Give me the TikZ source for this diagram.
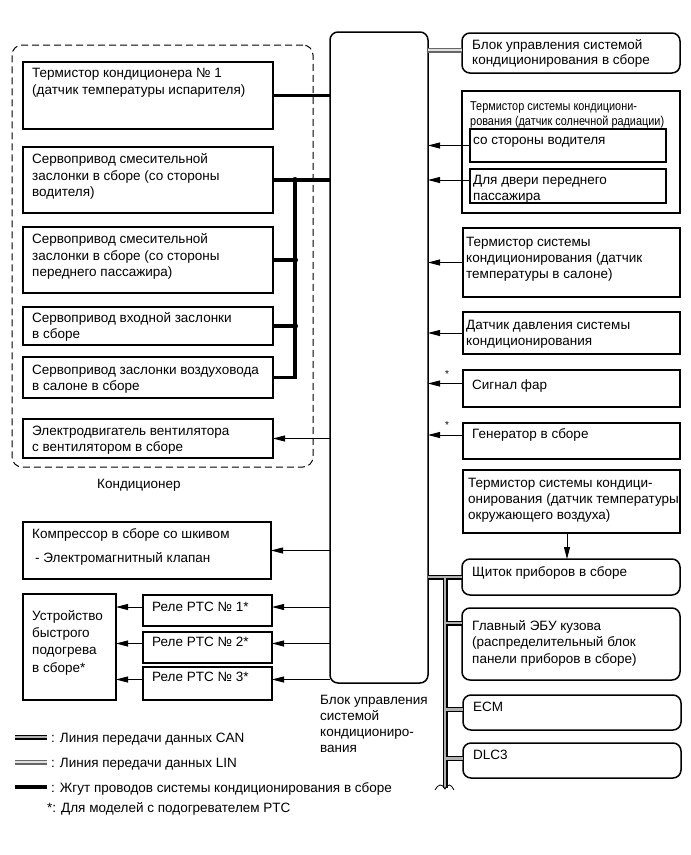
\documentclass[tikz,border=0pt]{standalone}
\usepackage{fontspec}
\setmainfont{Liberation Sans}
\newfontfamily\narrowfont[FakeStretch=0.85]{Liberation Sans}
\usetikzlibrary{arrows.meta}
\newcommand\mybox[6]{\node[#1, minimum width={#5-#3}, minimum height={#6-#4}] (#2) at (#3,#4) {};}
\begin{document}
\begin{tikzpicture}[x=1pt,y=-1pt,
  box/.style={draw, line width=1.6pt, anchor=north west, inner sep=0pt, outer sep=0pt},
  sbox/.style={box, line width=1.8pt},
  rbox/.style={box, line width=1.5pt, rounded corners=8pt},
  dbox/.style={box, line width=1pt, dash pattern=on 7pt off 4pt, rounded corners=10pt},
  txt/.style={anchor=north west, inner sep=0pt, yshift=-3pt, align=left, font=\fontsize{13.5}{16.8}\selectfont, execute at begin node=\strut},
  ntxt/.style={txt, font=\narrowfont\fontsize{12.8}{15}\selectfont},
  arr/.style={line width=0.9pt, -{Triangle[length=12pt,width=6pt]}},
  harness/.style={line width=3.5pt},
  canout/.style={line width=5pt, black},
  canin/.style={line width=2.2pt, black!30},
  linout/.style={line width=5pt, black!60},
  linin/.style={line width=1.8pt, black!12},
]
\useasboundingbox (0,0) rectangle (691,855);

% group frame and ECU
\mybox{dbox}{kond}{12}{45}{313}{467}
\node[txt] (kondl) at (97,474) {Кондиционер};
\mybox{rbox}{ecu}{330}{32}{428}{683}
\node[txt, font=\fontsize{13.5}{16}\selectfont] (ecul) at (320,692) {Блок управления\\системой\\кондициониро-\\вания};

% left boxes
\mybox{box}{b1}{23}{62}{273}{129}
\mybox{box}{b2}{23}{147}{273}{213}
\mybox{box}{b3}{23}{227}{273}{293}
\mybox{box}{b4}{23}{307}{273}{345}
\mybox{box}{b5}{23}{357}{273}{398}
\mybox{box}{b6}{23}{419}{273}{458}
\mybox{box}{comp}{23}{522}{271}{579}
\mybox{box}{ud}{23}{594}{116}{700}
\mybox{box}{r1}{143}{595}{272}{626}
\mybox{box}{r2}{143}{632}{272}{663}
\mybox{box}{r3}{143}{667}{272}{700}

\node[txt] (t1) at (32,65) {Термистор кондиционера № 1\\(датчик температуры испарителя)};
\node[txt] (t2) at (32,150) {Сервопривод смесительной\\заслонки в сборе (со стороны\\водителя)};
\node[txt] (t3) at (32,230) {Сервопривод смесительной\\заслонки в сборе (со стороны\\переднего пассажира)};
\node[txt, font=\fontsize{13.5}{16}\selectfont] (t4) at (32,309) {Сервопривод входной заслонки\\в сборе};
\node[txt, font=\fontsize{13.5}{16}\selectfont] (t5) at (32,362) {Сервопривод заслонки воздуховода\\в салоне в сборе};
\node[txt, font=\fontsize{13.5}{16}\selectfont] (t6) at (32,423) {Электродвигатель вентилятора\\с вентилятором в сборе};
\node[txt] (tc) at (32,525) {Компрессор в сборе со шкивом\\[8pt]\hspace*{3pt}- Электромагнитный клапан};
\node[txt, font=\fontsize{13.5}{17.3}\selectfont] (tu) at (32,607) {Устройство\\быстрого\\подогрева\\в сборе*};
\node[txt] (tr1) at (152,597) {Реле PTC № 1*};
\node[txt] (tr2) at (152,632) {Реле PTC № 2*};
\node[txt] (tr3) at (152,667) {Реле PTC № 3*};

% right boxes
\mybox{rbox}{top}{462}{33}{680}{73}
\mybox{sbox}{sun}{462}{91}{680}{213}
\mybox{sbox}{s1}{470}{129}{666}{162}
\mybox{sbox}{s2}{470}{169}{666}{203}
\mybox{sbox}{sal}{463}{228}{680}{297}
\mybox{sbox}{dav}{463}{312}{680}{354}
\mybox{sbox}{far}{463}{370}{680}{407}
\mybox{sbox}{gen}{463}{423}{680}{459}
\mybox{sbox}{amb}{463}{470}{680}{533}
\mybox{rbox}{shch}{462}{559}{680}{595}
\mybox{rbox}{gl}{462}{608}{680}{680}
\mybox{rbox}{ecm}{463}{695}{681}{730}
\mybox{rbox}{dlc}{463}{743}{681}{778}

\node[txt, font=\fontsize{13.5}{15.5}\selectfont] (ttop) at (472,36) {Блок управления системой\\кондиционирования в сборе};
\node[ntxt] (tsun) at (470,98) {Термистор системы кондициони-\\рования (датчик солнечной радиации)};
\node[txt] (ts1) at (473,130) {со стороны водителя};
\node[txt, font=\fontsize{13.5}{16}\selectfont] (ts2) at (473,172) {Для двери переднего\\пассажира};
\node[txt, font=\fontsize{13.5}{16}\selectfont] (tsal) at (466,234) {Термистор системы\\кондиционирования (датчик\\температуры в салоне)};
\node[txt, font=\fontsize{13.5}{16}\selectfont] (tdav) at (466,317) {Датчик давления системы\\кондиционирования};
\node[txt] (tfar) at (472,375) {Сигнал фар};
\node[txt] (tgen) at (472,424) {Генератор в сборе};
\node[txt, font=\fontsize{13.5}{16}\selectfont] (tamb) at (468,475) {Термистор системы кондици-\\онирования (датчик температуры\\окружающего воздуха)};
\node[txt] (tshch) at (472,562) {Щиток приборов в сборе};
\node[txt, font=\fontsize{13.5}{16.5}\selectfont] (tgl) at (472,617) {Главный ЭБУ кузова\\(распределительный блок\\панели приборов в сборе)};
\node[txt] (tecm) at (473,697) {ECM};
\node[txt] (tdlc) at (473,745) {DLC3};

\node[inner sep=0pt, font=\fontsize{10}{10}\selectfont] (st1) at (447,374) {*};
\node[inner sep=0pt, font=\fontsize{10}{10}\selectfont] (st2) at (447,425) {*};

% harness
\path (b2.east) ++(22,0) coordinate (h2);
\draw[harness] (b1.east) -- (ecu.west |- b1.east);
\draw[harness] (b2.east) -- (ecu.west |- b2.east);
\draw[harness] (h2) |- (b5.east);
\draw[harness] (b3.east) -- (h2 |- b3.east);
\draw[harness] (b4.east) -- (h2 |- b4.east);
\fill (h2) circle (3);
\fill (h2 |- b3.east) circle (3);
\fill (h2 |- b4.east) circle (3);

% arrows left
\draw[arr] (ecu.west |- b6.east) -- (b6.east);
\draw[arr] (ecu.west |- comp.east) -- (comp.east);
\coordinate (ra1) at ([yshift=3.5pt]r1.east);
\coordinate (ra2) at ([yshift=4pt]r2.east);
\coordinate (ra3) at ([yshift=4pt]r3.east);
\foreach \c/\r in {ra1/r1, ra2/r2, ra3/r3}{
  \draw[arr] (ecu.west |- \c) -- (\c);
  \draw[arr] (\r.west |- \c) -- (ud.east |- \c);
}

% arrows right
\coordinate (sa2) at ([yshift=6pt]s2.west);
\coordinate (fa) at ([yshift=5pt]far.west);
\coordinate (ga) at ([yshift=6pt]gen.west);
\draw[arr] (s1.west) -- (ecu.east |- s1.west);
\draw[arr] (sa2) -- (ecu.east |- sa2);
\draw[arr] (sal.west) -- (ecu.east |- sal.west);
\draw[arr] (dav.west) -- (ecu.east |- dav.west);
\draw[arr] (fa) -- (ecu.east |- fa);
\draw[arr] (ga) -- (ecu.east |- ga);
\path (amb.south west) ++(104,0) coordinate (aa);
\draw[arr] (aa) -- (aa |- shch.north);

% LIN
\coordinate (la) at ([yshift=3pt]top.west);
\draw[linout] (ecu.east |- la) -- (la);
\draw[linin] (ecu.east |- la) -- (la);

% CAN
\path (shch.west) ++(-17,0) coordinate (cj);
\path (cj) ++(0,211) coordinate (cb);
\path (gl.north west) ++(0,15) coordinate (g2);
\coordinate (e2) at ([yshift=3pt]ecm.west);
\coordinate (d2) at ([yshift=2pt]dlc.west);
\foreach \s in {canout, canin}{
  \draw[\s] (ecu.east |- cj) -- (shch.west);
  \draw[\s] (cj) -- (cb);
  \draw[\s] (cj |- g2) -- (g2);
  \draw[\s] (cj |- e2) -- (e2);
  \draw[\s] (cj |- d2) -- (d2);
}
\draw[line width=0.8pt] ([xshift=-10pt,yshift=-2pt]cb) .. controls +(3,-6) and +(-3,-6) .. ([yshift=-1pt]cb) .. controls +(3,-6) and +(-3,-6) .. ([xshift=9pt,yshift=-2pt]cb);

% legend
\coordinate (lc1) at (15,737); \coordinate (lc2) at (47,737);
\coordinate (ll1) at (15,762); \coordinate (ll2) at (47,762);
\coordinate (lh1) at (15,787); \coordinate (lh2) at (47,787);
\draw[canout] (lc1) -- (lc2); \draw[canin] (lc1) -- (lc2);
\draw[linout] (ll1) -- (ll2); \draw[linin] (ll1) -- (ll2);
\draw[line width=4pt] (lh1) -- (lh2);
\node[txt, anchor=west, yshift=1pt] (lt1) at (51,737) {: Линия передачи данных CAN};
\node[txt, anchor=west, yshift=1pt] (lt2) at (51,762) {: Линия передачи данных LIN};
\node[txt, anchor=west, yshift=1pt] (lt3) at (51,787) {: Жгут проводов системы кондиционирования в сборе};
\node[txt, anchor=west, yshift=1pt] (lt4) at (47,807) {*: Для моделей с подогревателем PTC};
\end{tikzpicture}
\end{document}
